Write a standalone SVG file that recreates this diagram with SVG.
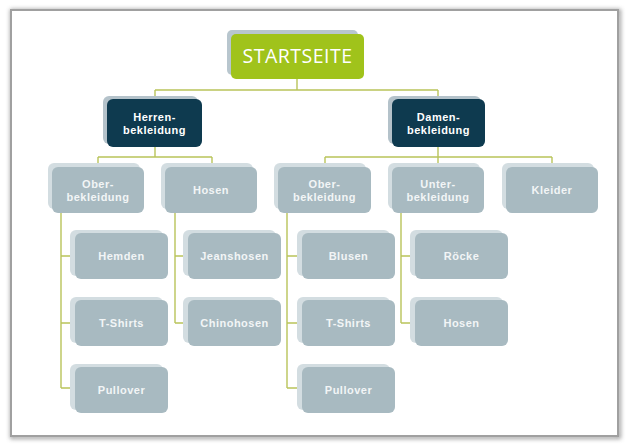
<svg xmlns="http://www.w3.org/2000/svg" width="631" height="445" viewBox="0 0 631 445">
<defs>
<filter id="fs" x="-5%" y="-5%" width="110%" height="110%">
<feGaussianBlur stdDeviation="2"/>
</filter>
</defs>
<style>
.sh{fill:#d3dde1}
.box{fill:#a8bac1}
.dk{fill:#0e3a4f}
.dsh{fill:#b4c2ca}
.t{font-family:"Liberation Sans",Arial,sans-serif;font-weight:700;font-size:11px;letter-spacing:0.5px;fill:#f2f5f6;text-anchor:middle}
.tw{fill:#ffffff}
.c{fill:none;stroke:#b9c45a;stroke-width:1.4}
</style>
<rect x="0" y="0" width="631" height="445" fill="#ffffff"/>
<rect x="12" y="11" width="607" height="426" fill="none" stroke="#8a8a8a" stroke-width="4" filter="url(#fs)" opacity="0.8"/>
<rect x="11" y="10" width="607" height="426" fill="#ffffff" stroke="#a0a0a0" stroke-width="2"/>

<g id="connectors">
<path class="c" d="M297 79V90M155 90H438M155 90V99M438 90V99"/>
<path class="c" d="M155 147V157M98 157H212M98 157V167M212 157V167"/>
<path class="c" d="M438 147V157M325 157H552M325 157V167M438 157V167M552 157V167"/>
<path class="c" d="M61 212V388M61 256H75M61 323H75M61 388H75"/>
<path class="c" d="M175 212V323M175 256H188M175 323H188"/>
<path class="c" d="M287 212V388M287 256H302M287 323H302M287 388H302"/>
<path class="c" d="M401 212V323M401 256H415M401 323H415"/>
</g>

<g id="startseite">
<rect x="227" y="30" width="131" height="45" rx="5" fill="#b8c6ce"/>
<rect x="231" y="34" width="133" height="45" rx="5" fill="#a0c31b"/>
<text x="297.5" y="63" font-family="'Open Sans','DejaVu Sans',sans-serif" font-size="19.5" letter-spacing="0.5" fill="#ffffff" text-anchor="middle">STARTSEITE</text>
</g>

<g id="herren">
<rect class="dsh" x="103" y="96" width="95" height="48" rx="6"/>
<rect class="dk" x="107" y="99" width="95" height="48" rx="6"/>
<text class="t tw" x="154.5" y="121"><tspan x="154.5">Herren-</tspan><tspan x="154.5" dy="12.5">bekleidung</tspan></text>
</g>

<g id="damen">
<rect class="dsh" x="388" y="96" width="93" height="48" rx="6"/>
<rect class="dk" x="392" y="99" width="93" height="48" rx="6"/>
<text class="t tw" x="438.5" y="121"><tspan x="438.5">Damen-</tspan><tspan x="438.5" dy="12.5">bekleidung</tspan></text>
</g>

<g id="h-oberbekleidung">
<rect class="sh" x="48" y="163" width="92" height="46" rx="6"/>
<rect class="box" x="52" y="167" width="92" height="46" rx="6"/>
<text class="t" x="98" y="188"><tspan x="98">Ober-</tspan><tspan x="98" dy="12.5">bekleidung</tspan></text>
</g>
<g id="h-hosen">
<rect class="sh" x="161" y="163" width="92" height="46" rx="6"/>
<rect class="box" x="165" y="167" width="92" height="46" rx="6"/>
<text class="t" x="211" y="194">Hosen</text>
</g>
<g id="d-oberbekleidung">
<rect class="sh" x="274" y="163" width="92" height="46" rx="6"/>
<rect class="box" x="278" y="167" width="93" height="46" rx="6"/>
<text class="t" x="324.5" y="188"><tspan x="324.5">Ober-</tspan><tspan x="324.5" dy="12.5">bekleidung</tspan></text>
</g>
<g id="d-unterbekleidung">
<rect class="sh" x="388" y="163" width="92" height="46" rx="6"/>
<rect class="box" x="392" y="167" width="92" height="46" rx="6"/>
<text class="t" x="438" y="188"><tspan x="438">Unter-</tspan><tspan x="438" dy="12.5">bekleidung</tspan></text>
</g>
<g id="d-kleider">
<rect class="sh" x="502" y="163" width="92" height="46" rx="6"/>
<rect class="box" x="506" y="167" width="92" height="46" rx="6"/>
<text class="t" x="552" y="194">Kleider</text>
</g>

<g id="h-hemden">
<rect class="sh" x="70" y="230" width="93" height="46" rx="6"/>
<rect class="box" x="75" y="233" width="93" height="46" rx="6"/>
<text class="t" x="121.5" y="260">Hemden</text>
</g>
<g id="h-tshirts">
<rect class="sh" x="70" y="297" width="93" height="46" rx="6"/>
<rect class="box" x="75" y="300" width="93" height="46" rx="6"/>
<text class="t" x="121.5" y="327">T-Shirts</text>
</g>
<g id="h-pullover">
<rect class="sh" x="70" y="364" width="93" height="46" rx="6"/>
<rect class="box" x="75" y="367" width="93" height="46" rx="6"/>
<text class="t" x="121.5" y="394">Pullover</text>
</g>
<g id="h-jeanshosen">
<rect class="sh" x="183" y="230" width="93" height="46" rx="6"/>
<rect class="box" x="188" y="233" width="93" height="46" rx="6"/>
<text class="t" x="234.5" y="260">Jeanshosen</text>
</g>
<g id="h-chinohosen">
<rect class="sh" x="183" y="297" width="93" height="46" rx="6"/>
<rect class="box" x="188" y="300" width="93" height="46" rx="6"/>
<text class="t" x="234.5" y="327">Chinohosen</text>
</g>
<g id="d-blusen">
<rect class="sh" x="297" y="230" width="93" height="46" rx="6"/>
<rect class="box" x="302" y="233" width="93" height="46" rx="6"/>
<text class="t" x="348.5" y="260">Blusen</text>
</g>
<g id="d-tshirts">
<rect class="sh" x="297" y="297" width="93" height="46" rx="6"/>
<rect class="box" x="302" y="300" width="93" height="46" rx="6"/>
<text class="t" x="348.5" y="327">T-Shirts</text>
</g>
<g id="d-pullover">
<rect class="sh" x="297" y="364" width="93" height="46" rx="6"/>
<rect class="box" x="302" y="367" width="93" height="46" rx="6"/>
<text class="t" x="348.5" y="394">Pullover</text>
</g>
<g id="d-roecke">
<rect class="sh" x="410" y="230" width="93" height="46" rx="6"/>
<rect class="box" x="415" y="233" width="93" height="46" rx="6"/>
<text class="t" x="461.5" y="260">Röcke</text>
</g>
<g id="d-hosen">
<rect class="sh" x="410" y="297" width="93" height="46" rx="6"/>
<rect class="box" x="415" y="300" width="93" height="46" rx="6"/>
<text class="t" x="461.5" y="327">Hosen</text>
</g>
</svg>
